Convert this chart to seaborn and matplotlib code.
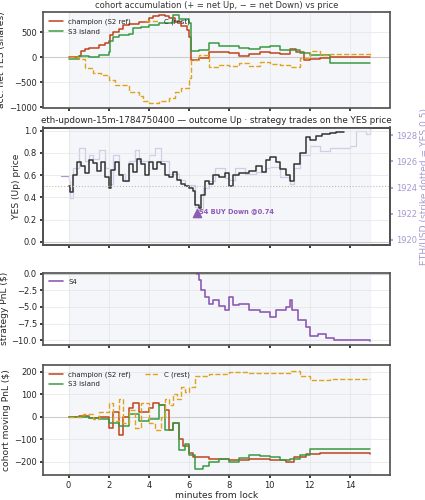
import numpy as np
import pandas as pd
import matplotlib
matplotlib.use("Agg")
import matplotlib.pyplot as plt
import seaborn as sns

# ── data (minutes from lock, value) ────────────────────────────────────────
acc_champ_t = [0, 0.5, 0.6, 0.8, 1.0, 1.5, 1.8, 2.0, 2.05, 2.2, 2.5, 2.7, 3.0, 3.5, 4.0, 4.2, 4.5, 4.8, 5.0, 5.3, 5.6, 5.9, 6.0, 6.1, 6.5, 7.0, 7.5, 8.0, 8.5, 9.0, 9.5, 10.0, 10.5, 11.0, 11.3, 11.7, 12.0, 12.5, 13.0, 15.0]
acc_champ_v = [0, 30, 130, 170, 190, 240, 280, 330, 450, 500, 560, 640, 660, 700, 780, 820, 840, 830, 780, 700, 620, 550, 400, -50, -20, 110, 100, 80, 30, 70, 100, 80, 60, 170, 110, -60, -30, -10, 0, 0]
acc_s3_t = [0, 0.5, 1, 1.5, 2, 2.05, 2.2, 2.5, 3, 3.2, 3.6, 4, 4.5, 5.0, 5.2, 5.5, 6.0, 6.1, 6.5, 7.0, 7.5, 8, 8.5, 9, 9.5, 10, 10.5, 11, 11.5, 12, 12.5, 13, 15]
acc_s3_v = [-30, 20, 0, 50, 100, 330, 410, 440, 470, 580, 610, 640, 680, 690, 850, 760, 680, 120, 140, 280, 230, 220, 180, 170, 210, 230, 150, 140, 80, 50, 40, -120, -120]
acc_c_t = [0, 0.5, 0.8, 1.2, 1.6, 2.0, 2.3, 3, 3.5, 3.7, 4, 4.5, 5, 5.3, 5.6, 6.0, 6.1, 6.5, 7, 7.5, 8, 8.5, 9, 9.5, 10, 10.5, 11, 11.5, 12, 12.5, 13, 15]
acc_c_v = [0, -30, -220, -320, -350, -450, -560, -700, -780, -880, -910, -880, -820, -700, -620, -420, -60, 50, -200, -150, -180, -110, -170, -100, -130, -150, -190, -20, 120, 50, 60, 0]

yes_t = [0, 0.05, 0.2, 0.4, 0.6, 0.8, 1, 1.2, 1.4, 1.6, 1.8, 2.0, 2.1, 2.3, 2.5, 2.7, 3.0, 3.2, 3.4, 3.6, 3.8, 4.0, 4.2, 4.4, 4.6, 4.8, 5.0, 5.2, 5.4, 5.6, 5.8, 6.0, 6.2, 6.3, 6.5, 6.6, 6.8, 7, 7.2, 7.5, 7.8, 8, 8.2, 8.5, 9, 9.3, 9.6, 9.8, 10, 10.3, 10.5, 10.8, 11, 11.2, 11.5, 11.8, 12, 12.3, 12.6, 13, 13.3, 13.7]
yes_v = [0.50, 0.45, 0.60, 0.72, 0.68, 0.62, 0.74, 0.71, 0.64, 0.72, 0.58, 0.48, 0.65, 0.72, 0.60, 0.55, 0.70, 0.63, 0.75, 0.70, 0.60, 0.72, 0.66, 0.72, 0.70, 0.60, 0.58, 0.63, 0.56, 0.52, 0.50, 0.48, 0.46, 0.33, 0.30, 0.42, 0.55, 0.52, 0.60, 0.58, 0.62, 0.50, 0.60, 0.62, 0.64, 0.68, 0.63, 0.74, 0.76, 0.72, 0.66, 0.60, 0.55, 0.70, 0.80, 0.94, 0.92, 0.95, 0.97, 0.98, 0.99, 0.99]
eth_t = [-0.4, 0, 0.05, 0.2, 0.5, 0.8, 1.0, 1.2, 1.5, 1.8, 2, 2.2, 2.5, 2.8, 3, 3.3, 3.5, 4, 4.3, 4.6, 5, 5.5, 5.8, 6.3, 6.5, 6.7, 7, 7.3, 7.8, 8, 8.3, 8.8, 9.3, 9.8, 10, 10.5, 11, 11.2, 11.5, 12, 12.5, 13, 13.5, 14, 14.3, 14.8, 15]
eth_v = [1924.9, 1924.5, 1923.2, 1925.5, 1927, 1926, 1926.5, 1926.2, 1926.9, 1925.5, 1924.3, 1926.5, 1925, 1924.5, 1926, 1926.9, 1926, 1926.5, 1927, 1926, 1925, 1924.6, 1924.2, 1922.5, 1922.3, 1924, 1924.5, 1925.5, 1924.7, 1924.6, 1925.5, 1925, 1925.2, 1925.5, 1925.6, 1924.8, 1924.3, 1925.5, 1926.5, 1927.2, 1926.8, 1927, 1927, 1927.2, 1928.3, 1928.1, 1928.6]
trade_t, trade_p = 6.4, 0.26

s4_t = [6.4, 6.5, 6.6, 6.8, 7, 7.2, 7.5, 7.8, 8, 8.2, 8.5, 9, 9.5, 10, 10.3, 10.8, 11, 11.1, 11.4, 11.8, 12, 12.4, 12.8, 13.2, 14, 15]
s4_v = [0, -1, -2.5, -3.5, -4.5, -4, -4.8, -5.5, -3.5, -4.7, -4.5, -5.5, -5.8, -6.5, -5.5, -5, -4, -5.5, -7, -8, -9.3, -9.0, -9.7, -10, -9.9, -10.1]

pnl_champ_t = [0, 0.5, 1, 1.5, 2, 2.2, 2.5, 2.7, 3.0, 3.2, 3.5, 4, 4.2, 4.5, 4.8, 5.0, 5.2, 5.5, 5.7, 6.0, 6.2, 7, 8, 9, 10, 10.8, 11.2, 11.8, 12.5, 15]
pnl_champ_v = [0, 3, -5, 0, -50, 20, -80, 0, 40, 60, 20, 40, 60, 50, 30, -60, -30, -100, -130, -160, -180, -190, -195, -190, -195, -200, -180, -165, -160, -165]
pnl_s3_t = [0, 1, 1.5, 2, 2.5, 3, 3.5, 4, 4.5, 4.8, 5.2, 5.5, 5.8, 6, 6.3, 6.7, 7, 7.5, 8, 8.5, 9, 9.5, 10, 10.5, 11, 11.5, 12, 15]
pnl_s3_v = [0, -5, -10, -30, -40, 10, -20, -10, 50, -60, -30, -150, -120, -170, -235, -220, -200, -190, -200, -185, -170, -175, -180, -195, -190, -170, -145, -145]
pnl_c_t = [0, 0.7, 1.2, 1.5, 2, 2.2, 2.5, 2.7, 3, 3.3, 3.6, 4, 4.3, 4.6, 4.8, 5.0, 5.2, 5.4, 5.6, 5.8, 6.0, 6.3, 7, 8, 9, 10, 11, 11.5, 12, 13, 15]
pnl_c_v = [0, 10, -10, 20, 60, -20, 80, -30, 30, -50, 60, -30, -60, 0, 80, 50, 100, 80, 130, 110, 130, 180, 190, 200, 195, 195, 205, 180, 165, 168, 168]

RED, GREEN, ORANGE, PURPLE = "#c0441c", "#3a9a44", "#e0a21b", "#8e5bb5"
ETH_C = "#a898d0"

sns.set_theme(style="ticks", font_scale=0.55)
plt.rcParams["font.family"] = ["DejaVu Sans"]

fig = plt.figure(figsize=(4.25, 5), dpi=100)
ax1 = fig.add_axes([0.10, 0.785, 0.818, 0.19])
ax2 = fig.add_axes([0.10, 0.51, 0.818, 0.235])
ax3 = fig.add_axes([0.10, 0.31, 0.818, 0.145])
ax4 = fig.add_axes([0.10, 0.05, 0.818, 0.22])


def step(ax, t, v, **kw):
    df = pd.DataFrame({"t": t, "v": v})
    sns.lineplot(data=df, x="t", y="v", ax=ax, drawstyle="steps-post", **kw)


def style(ax):
    ax.axvspan(0, 15, color="#eef0f7", alpha=0.6, zorder=0)
    ax.axhline(0, color="#cccccc", lw=0.8, zorder=1)
    ax.grid(True, color="#e4e4e4", lw=0.5)
    ax.set_xlim(-1.3, 16)
    ax.set_xticks(range(0, 15, 2))
    ax.tick_params(length=2.5, pad=1.5)
    for s in ax.spines.values():
        s.set_color("#555555")
    ax.set_xlabel("")


step(ax1, acc_champ_t, acc_champ_v, color=RED, lw=1.1, label="champion (S2 ref)")
step(ax1, acc_s3_t, acc_s3_v, color=GREEN, lw=1.1, label="S3 island")
step(ax1, acc_c_t, acc_c_v, color=ORANGE, lw=1.0, linestyle="--", label="C (rest)")
style(ax1)
ax1.set_ylim(-1010, 900)
ax1.set_ylabel("acc. net YES (shares)", labelpad=2)
ax1.set_title("cohort accumulation (+ = net Up, − = net Down) vs price", fontsize=6, pad=3, color="#333333")
ax1.legend(loc="upper left", ncol=2, frameon=False, fontsize=5)
ax1.set_xticklabels([])

ax2b = ax2.twinx()
step(ax2b, eth_t, eth_v, color=ETH_C, lw=0.9)
ax2b.set_ylim(1919.6, 1928.6)
ax2b.set_yticks([1920, 1922, 1924, 1926, 1928])
ax2b.set_ylabel("ETH/USD (strike dotted = YES 0.5)", color=ETH_C, labelpad=2)
ax2b.tick_params(axis="y", colors=ETH_C, length=2.5, pad=1.5)
ax2b.set_xlabel("")
step(ax2, yes_t, yes_v, color="#333333", lw=1.1)
style(ax2)
ax2.axhline(0.5, color="#bbbbbb", lw=0.8, ls=":")
ax2.set_zorder(ax2b.get_zorder() + 1)
ax2.patch.set_visible(False)
ax2.scatter([trade_t], [trade_p], marker="^", color=PURPLE, s=35, zorder=5)
ax2.text(trade_t + 0.1, trade_p + 0.02, "S4 BUY Down @0.74", color=PURPLE,
         fontsize=4.8, fontweight="bold", va="center")
ax2.set_ylim(-0.03, 1.03)
ax2.set_ylabel("YES (Up) price", labelpad=2)
ax2.set_title("eth-updown-15m-1784750400 — outcome Up · strategy trades on the YES price",
              fontsize=6.3, pad=3)
ax2.set_xticklabels([])

step(ax3, s4_t, s4_v, color=PURPLE, lw=1.2, label="S4")
style(ax3)
ax3.set_ylim(-10.7, 0.15)
ax3.set_yticks([0, -2.5, -5, -7.5, -10])
ax3.set_ylabel("strategy PnL ($)", labelpad=2)
ax3.legend(loc="upper left", frameon=False, fontsize=5)
ax3.set_xticklabels([])

step(ax4, pnl_champ_t, pnl_champ_v, color=RED, lw=1.1, label="champion (S2 ref)")
step(ax4, pnl_s3_t, pnl_s3_v, color=GREEN, lw=1.1, label="S3 island")
step(ax4, pnl_c_t, pnl_c_v, color=ORANGE, lw=1.0, linestyle="--", label="C (rest)")
style(ax4)
ax4.set_ylim(-260, 230)
ax4.set_ylabel("cohort moving PnL ($)", labelpad=2)
ax4.set_xlabel("minutes from lock", labelpad=1)
ax4.legend(loc="upper left", ncol=2, frameon=False, fontsize=5)

fig.savefig("out.png", dpi=100)
